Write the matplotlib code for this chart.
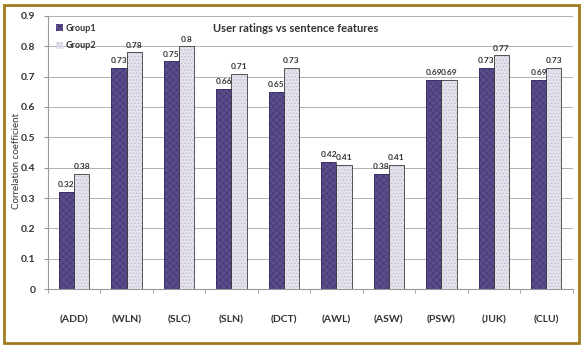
import numpy as np
import matplotlib.pyplot as plt
from matplotlib.patches import Rectangle

features = ['(ADD)', '(WLN)', '(SLC)', '(SLN)', '(DCT)', '(AWL)', '(ASW)', '(PSW)', '(JUK)', '(CLU)']
group1 = [0.32, 0.73, 0.75, 0.66, 0.65, 0.42, 0.38, 0.69, 0.73, 0.69]
group2 = [0.38, 0.78, 0.8, 0.71, 0.73, 0.41, 0.41, 0.69, 0.77, 0.73]
yticks = [0, 0.1, 0.2, 0.3, 0.4, 0.5, 0.6, 0.7, 0.8, 0.9]

plt.rcParams['font.family'] = ['Lato', 'DejaVu Sans']
plt.rcParams['hatch.linewidth'] = 0.4

fig = plt.figure(figsize=(5.83, 3.47), dpi=100)
ax = fig.add_axes([0.082, 0.167, 0.900, 0.787])

x = np.arange(len(features))
w = 0.29

# hatched fill first, then an outline on top
b1 = ax.bar(x - w / 2, group1, w, color='#5b4c8c', edgecolor='#42356e', hatch='xxxxx', lw=0, zorder=3, label='Group1')
ax.bar(x - w / 2, group1, w, fill=False, edgecolor='#3a2e60', lw=0.6, zorder=4)
b2 = ax.bar(x + w / 2, group2, w, color='#e4e0ec', edgecolor='#b8b2c8', hatch='.....', lw=0, zorder=3, label='Group2')
ax.bar(x + w / 2, group2, w, fill=False, edgecolor='#3a3a3a', lw=0.6, zorder=4)

for xi, v in zip(x, group1):
    ax.text(xi - w / 2, v + 0.012, f'{v:g}', ha='center', va='bottom', fontsize=6, fontweight='bold', color='#333333', zorder=5)
for xi, v in zip(x, group2):
    ax.text(xi + w / 2, v + 0.012, f'{v:g}', ha='center', va='bottom', fontsize=6, fontweight='bold', color='#333333', zorder=5)

ax.set_xlim(-0.5, len(features) - 0.5)
ax.set_ylim(0, 0.9)
ax.set_yticks(yticks)
ax.set_yticklabels([f'{t:g}' for t in yticks])
ax.set_xticks(x)
ax.set_xticklabels(features)
ax.set_xticks(np.arange(len(features) + 1) - 0.5, minor=True)
ax.tick_params(axis='x', which='major', length=0, pad=19, labelsize=7.5, colors='#333333')
ax.tick_params(axis='x', which='minor', length=3, color='#999999')
ax.tick_params(axis='y', length=3, pad=6, color='#999999', labelsize=7.5, colors='#333333')
for lbl in ax.get_xticklabels() + ax.get_yticklabels():
    lbl.set_fontweight('bold')

ax.grid(axis='y', color='#b0b0b0', lw=0.7, zorder=0)
for s in ['top', 'right']:
    ax.spines[s].set_visible(False)
ax.spines['left'].set_color('#999999')
ax.spines['bottom'].set_color('#999999')

ax.set_ylabel('Correlation coefficient', fontsize=7, color='#333333')
ax.yaxis.set_label_coords(-0.052, 0.47)
ax.text(0.473, 0.975, 'User ratings vs sentence features', transform=ax.transAxes, ha='center', va='top',
        fontsize=8, fontweight='bold', color='#333333')

leg = ax.legend(handles=[b1, b2], loc='upper left', bbox_to_anchor=(0.0, 1.0), frameon=False,
                fontsize=6.5, handlelength=0.8, handleheight=0.8, handletextpad=0.3, labelspacing=0.9)
for t in leg.get_texts():
    t.set_fontweight('bold')
    t.set_color('#333333')

fig.patches.append(Rectangle((0.007, 0.012), 0.986, 0.974, transform=fig.transFigure, fill=False,
                             edgecolor='#a07c1e', lw=2))

fig.savefig('out.png', dpi=100)
